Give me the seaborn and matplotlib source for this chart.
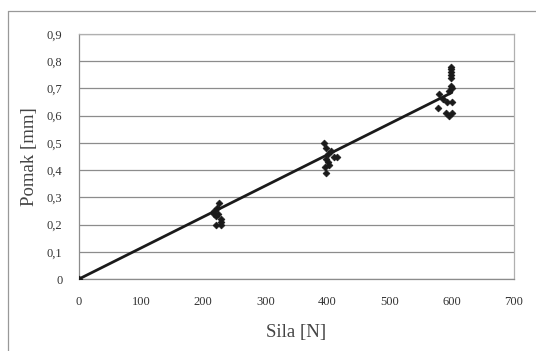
import matplotlib
matplotlib.use("Agg")
import matplotlib.pyplot as plt
import matplotlib.ticker as mticker
from matplotlib.lines import Line2D
import seaborn as sns
import pandas as pd

sns.set_style("white")
plt.rcParams['font.family'] = ['Liberation Serif', 'DejaVu Serif']

# measured points (force N, displacement mm)
sila = [0,
        218, 218, 220, 222, 224, 226, 228, 228, 220, 228,
        395, 398, 400, 405, 410, 415, 398, 400, 396, 402, 398,
        598, 598, 598, 598, 598, 598, 600, 596, 580, 586, 592, 600, 578, 590, 600, 595]
pomak = [0,
         0.24, 0.25, 0.23, 0.26, 0.24, 0.28, 0.22, 0.21, 0.20, 0.20,
         0.50, 0.48, 0.46, 0.47, 0.45, 0.45, 0.44, 0.43, 0.41, 0.42, 0.39,
         0.78, 0.77, 0.76, 0.75, 0.74, 0.71, 0.70, 0.69, 0.68, 0.66, 0.65, 0.65, 0.63, 0.61, 0.61, 0.60]

# linear trend line
trend_x = [0, 600]
trend_y = [0, 0.685]

df = pd.DataFrame({'Sila': sila, 'Pomak': pomak})
df_trend = pd.DataFrame({'Sila': trend_x, 'Pomak': trend_y})

fig = plt.figure(figsize=(5.36, 3.51), dpi=100)
ax = fig.add_axes([79/536, 1 - 279/351, (514 - 79)/536, (279 - 34)/351])

sns.lineplot(x='Sila', y='Pomak', data=df_trend, ax=ax, color='#1a1a1a', lw=2)
sns.scatterplot(x='Sila', y='Pomak', data=df, ax=ax, marker='D', color='#1a1a1a',
                s=12, edgecolor='#1a1a1a', linewidth=0.5, zorder=3)

ax.set_xlim(0, 700)
ax.set_ylim(0, 0.9)
ax.set_xticks(range(0, 701, 100))
ax.set_yticks([i / 10 for i in range(10)])
ax.yaxis.set_major_formatter(mticker.FuncFormatter(
    lambda v, p: '0' if v == 0 else f'{v:.1f}'.replace('.', ',')))
ax.yaxis.grid(True, color='#8c8c8c', lw=0.9)
ax.xaxis.grid(False)
for s in ax.spines.values():
    s.set_color('#b0b0b0')
    s.set_linewidth(0.9)
ax.spines['left'].set_color('#8c8c8c')
ax.spines['bottom'].set_color('#8c8c8c')
ax.tick_params(axis='both', which='major', direction='out', length=4, width=0.8,
               color='#8c8c8c', labelsize=9, labelcolor='#333333', pad=8)
ax.set_xlabel('Sila [N]', fontsize=13.5, color='#444444', labelpad=12)
ax.set_ylabel('Pomak [mm]', fontsize=13.5, color='#444444', labelpad=6)

# outer chart frame (top and left visible)
fig.add_artist(Line2D([8/536, 1], [1 - 11/351, 1 - 11/351], color='#999999', lw=0.9))
fig.add_artist(Line2D([8/536, 8/536], [0, 1 - 11/351], color='#999999', lw=0.9))

fig.savefig('out.png', dpi=100, facecolor='white')
